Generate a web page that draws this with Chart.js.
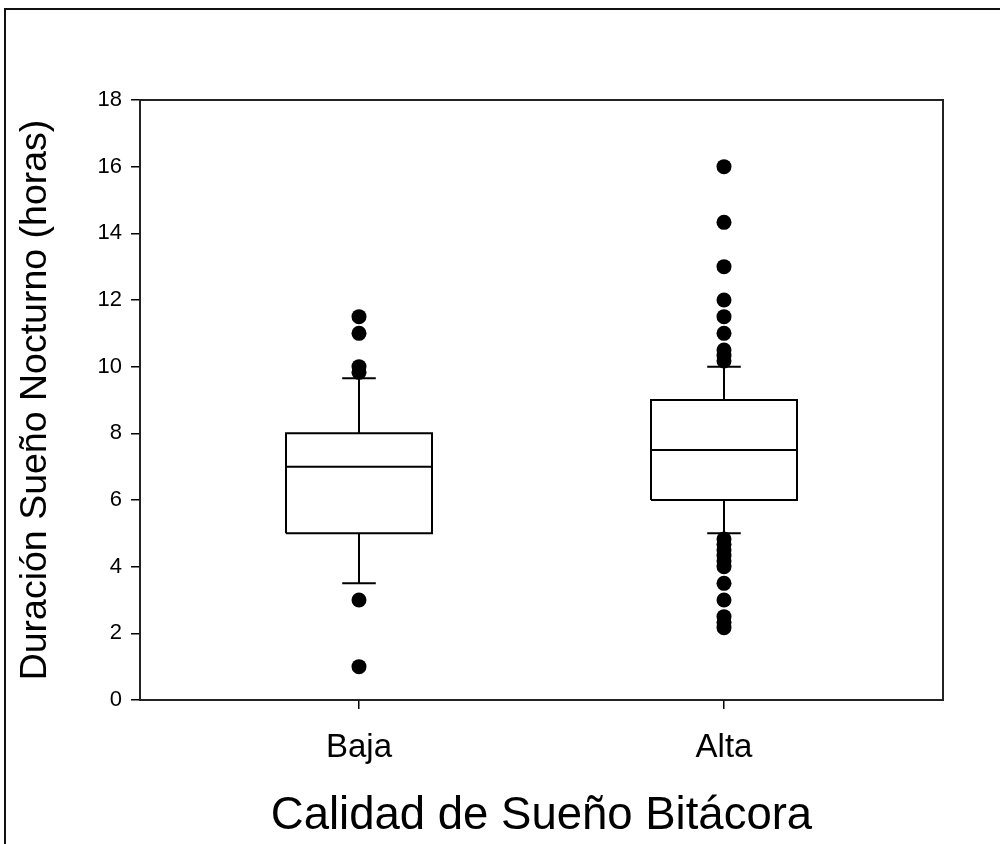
<!DOCTYPE html>
<html>
<head>
<meta charset="utf-8">
<script src="https://cdn.jsdelivr.net/npm/chart.js@4/dist/chart.umd.min.js"></script>
<style>
  html, body { margin: 0; padding: 0; background: #fff; }
  #wrap { position: relative; width: 1000px; height: 844px; overflow: hidden; }
  #frame { position: absolute; left: 4px; top: 8px; right: -4px; bottom: -4px; border-top: 2px solid #111; border-left: 2px solid #111; }
  canvas { position: absolute; left: 0; top: 0; }
</style>
</head>
<body>
<div id="wrap">
  <div id="frame"></div>
  <canvas id="c" width="1000" height="844"></canvas>
</div>
<script>
// ---- data ----
const categories = ['Baja', 'Alta'];
const q1 = [5, 6];
const median = [7, 7.5];
const q3 = [8, 9];
const whiskerLow = [3.5, 5];
const whiskerHigh = [9.65, 10];
const outliersBaja = [11.5, 11, 10, 9.83, 3, 1];
const outliersAlta = [16, 14.33, 13, 12, 11.5, 11, 10.5, 10.33, 10.17,
                      4.83, 4.67, 4.5, 4.33, 4.17, 4, 3.5, 3, 2.5, 2.33, 2.17];
const outliers = [outliersBaja, outliersAlta];
const yTicks = [0, 2, 4, 6, 8, 10, 12, 14, 16, 18];
const yTitle = 'Duración Sueño Nocturno (horas)';
const xTitle = 'Calidad de Sueño Bitácora';

// ---- styles ----
const BOX_HALF = 0.2;
const CAP_HALF = 0.046;
const LINE = { type: 'scatter', showLine: true, pointRadius: 0, pointHoverRadius: 0,
               borderColor: '#000', borderWidth: 2, fill: false, borderJoinStyle: 'miter' };

const datasets = [];
categories.forEach((cat, i) => {
  const x = i + 1;
  datasets.push(Object.assign({}, LINE, { label: cat + ' box', data: [
    {x: x - BOX_HALF, y: q1[i]}, {x: x + BOX_HALF, y: q1[i]},
    {x: x + BOX_HALF, y: q3[i]}, {x: x - BOX_HALF, y: q3[i]}, {x: x - BOX_HALF, y: q1[i]}] }));
  datasets.push(Object.assign({}, LINE, { label: cat + ' median', data: [
    {x: x - BOX_HALF, y: median[i]}, {x: x + BOX_HALF, y: median[i]}] }));
  datasets.push(Object.assign({}, LINE, { label: cat + ' upper whisker', data: [
    {x: x, y: q3[i]}, {x: x, y: whiskerHigh[i]}] }));
  datasets.push(Object.assign({}, LINE, { label: cat + ' lower whisker', data: [
    {x: x, y: q1[i]}, {x: x, y: whiskerLow[i]}] }));
  datasets.push(Object.assign({}, LINE, { label: cat + ' upper cap', data: [
    {x: x - CAP_HALF, y: whiskerHigh[i]}, {x: x + CAP_HALF, y: whiskerHigh[i]}] }));
  datasets.push(Object.assign({}, LINE, { label: cat + ' lower cap', data: [
    {x: x - CAP_HALF, y: whiskerLow[i]}, {x: x + CAP_HALF, y: whiskerLow[i]}] }));
  datasets.push({ type: 'scatter', label: cat + ' outliers',
    data: outliers[i].map(v => ({x: x, y: v})),
    pointRadius: 7.5, pointHoverRadius: 7.5, pointBackgroundColor: '#000', pointBorderColor: '#000',
    pointBorderWidth: 0, showLine: false });
});

const framePlugin = {
  id: 'plotFrame',
  afterDatasetsDraw(chart) {
    const {ctx, chartArea: a} = chart;
    ctx.save();
    ctx.strokeStyle = '#222';
    ctx.lineWidth = 2;
    ctx.strokeRect(a.left, a.top, a.right - a.left, a.bottom - a.top);
    ctx.restore();
  }
};

const FONT = '"Liberation Sans", Arial, Helvetica, sans-serif';

new Chart(document.getElementById('c'), {
  type: 'scatter',
  data: { datasets },
  plugins: [framePlugin],
  options: {
    responsive: false,
    animation: false,
    events: [],
    layout: { padding: { left: 0, top: 100, right: 57, bottom: 0 } },
    plugins: { legend: { display: false }, tooltip: { enabled: false } },
    scales: {
      x: {
        type: 'linear', min: 0.4, max: 2.6,
        afterBuildTicks: s => { s.ticks = categories.map((c, i) => ({ value: i + 1 })); },
        afterFit: s => { s.height = 144; },
        ticks: { callback: v => categories[v - 1] || '', color: '#000',
                 font: { family: FONT, size: 33 }, padding: 19, maxRotation: 0, autoSkip: false },
        grid: { drawOnChartArea: false, drawTicks: true, tickLength: 9, color: '#000', lineWidth: 1.5 },
        border: { display: false },
        title: { display: true, text: xTitle, color: '#000',
                 font: { family: FONT, size: 45.5 }, padding: { top: 0, bottom: 0 } }
      },
      y: {
        type: 'linear', min: 0, max: 18,
        afterBuildTicks: s => { s.ticks = yTicks.map(v => ({ value: v })); },
        afterFit: s => { s.width = 140; },
        ticks: { color: '#000', font: { family: FONT, size: 22 }, padding: 9 },
        grid: { drawOnChartArea: false, drawTicks: true, tickLength: 9, color: '#000', lineWidth: 1.5 },
        border: { display: false },
        title: { display: true, text: yTitle, color: '#000',
                 font: { family: FONT, size: 37.5 }, padding: { top: 13, bottom: 0 } }
      }
    }
  }
});
</script>
</body>
</html>
